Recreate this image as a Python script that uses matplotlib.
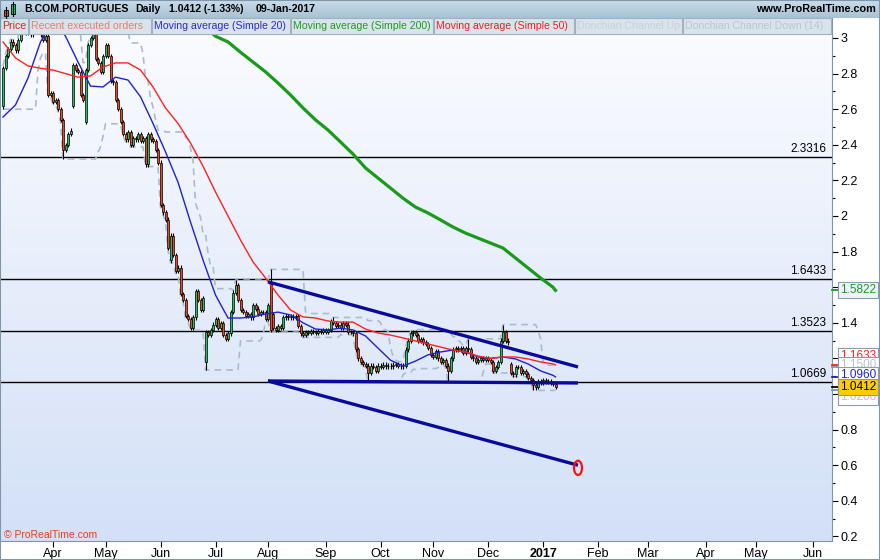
import numpy as np
import pandas as pd
import matplotlib
matplotlib.use('Agg')
import matplotlib.pyplot as plt
from matplotlib.patches import Rectangle, Ellipse
from matplotlib.colors import LinearSegmentedColormap

plt.rcParams['font.family'] = ['Liberation Sans', 'DejaVu Sans']

# --- data (daily closes from 2016-03-04 to 2017-01-09) ---
start_date = '2016-03-04'
closes = [
    2.83, 2.90, 2.94, 2.98, 2.96, 2.93, 2.99, 3.04, 3.06, 3.03,
    3.05, 3.02, 3.05, 3.08, 3.04, 3.02, 2.99, 3.01, 2.68, 2.69,
    2.64, 2.65, 2.60, 2.54, 2.37, 2.40, 2.46, 2.48, 2.85, 2.82,
    2.81, 2.68, 2.65, 2.82, 2.96, 3.00, 3.02, 2.88, 2.86, 2.81,
    2.90, 2.96, 2.90, 2.76, 2.75, 2.65, 2.60, 2.53, 2.46, 2.43,
    2.47, 2.40, 2.44, 2.43, 2.46, 2.42, 2.44, 2.29, 2.46, 2.43,
    2.42, 2.37, 2.30, 2.06, 2.02, 1.98, 1.82, 1.89, 1.78, 1.69,
    1.71, 1.56, 1.53, 1.44, 1.42, 1.37, 1.43, 1.58, 1.53, 1.47,
    1.54, 1.35, 1.33, 1.36, 1.39, 1.42, 1.37, 1.40, 1.33, 1.31,
    1.34, 1.46, 1.57, 1.61, 1.53, 1.47, 1.46, 1.44, 1.45, 1.43,
    1.50, 1.48, 1.45, 1.46, 1.46, 1.42, 1.50, 1.36, 1.37, 1.36,
    1.38, 1.37, 1.43, 1.44, 1.43, 1.44, 1.43, 1.44, 1.38, 1.34,
    1.33, 1.35, 1.345, 1.355, 1.35, 1.345, 1.355, 1.35, 1.36, 1.35,
    1.36, 1.41, 1.40, 1.38, 1.39, 1.37, 1.40, 1.39, 1.35, 1.35,
    1.34, 1.25, 1.20, 1.18, 1.17, 1.16, 1.12, 1.16, 1.15, 1.13,
    1.16, 1.15, 1.165, 1.155, 1.16, 1.155, 1.165, 1.17, 1.16, 1.155,
    1.16, 1.25, 1.30, 1.34, 1.35, 1.33, 1.30, 1.31, 1.29, 1.28,
    1.26, 1.22, 1.21, 1.24, 1.20, 1.18, 1.19, 1.16, 1.13, 1.20,
    1.25, 1.26, 1.25, 1.26, 1.23, 1.26, 1.25, 1.21, 1.20, 1.18,
    1.19, 1.20, 1.19, 1.20, 1.19, 1.18, 1.13, 1.15, 1.18, 1.30,
    1.35, 1.30, 1.29, 1.12, 1.11, 1.15, 1.15, 1.12, 1.13, 1.11,
    1.09, 1.08, 1.05, 1.04, 1.07, 1.06, 1.08, 1.07, 1.07, 1.06,
    1.055, 1.0412,
]
# opens that gap away from the previous close
gap_opens = {0: 2.62, 28: 2.62, 33: 2.53, 67: 1.75, 81: 1.18, 107: 1.62,
             108: 1.45, 203: 1.17}
# visible long wicks
high_ext = {7: 3.12, 36: 3.06, 93: 1.64, 107: 1.70, 132: 1.43, 186: 1.31, 200: 1.39}
low_ext = {0: 2.60, 24: 2.32, 81: 1.135, 90: 1.30, 146: 1.067, 178: 1.067,
           212: 1.025, 213: 1.02}

# moving averages read every 5 sessions (last point = last session)
ma20 = [2.556, 2.624, 2.775, 2.978, 3.10, 3.01, 2.865, 2.73, 2.725, 2.78,
        2.764, 2.67, 2.52, 2.36, 2.19, 1.966, 1.753, 1.556, 1.427, 1.427,
        1.433, 1.45, 1.46, 1.444, 1.40, 1.365, 1.36, 1.37, 1.36, 1.326,
        1.258, 1.19, 1.157, 1.185, 1.22, 1.236, 1.247, 1.236, 1.208, 1.20,
        1.208, 1.197, 1.169, 1.13, 1.105, 1.096]
ma50 = [2.978, 2.888, 2.843, 2.83, 2.82, 2.80, 2.78, 2.787, 2.837, 2.86,
        2.86, 2.82, 2.725, 2.607, 2.52, 2.41, 2.28, 2.135, 2.0, 1.865,
        1.742, 1.652, 1.556, 1.472, 1.433, 1.427, 1.41, 1.404, 1.404, 1.365,
        1.343, 1.331, 1.315, 1.298, 1.281, 1.264, 1.247, 1.236, 1.213, 1.20,
        1.208, 1.208, 1.197, 1.18, 1.169, 1.1633]
ma200 = [None] * 16 + [
        3.07, 3.01, 2.978, 2.92, 2.865, 2.81, 2.747, 2.68, 2.607, 2.54,
        2.483, 2.416, 2.348, 2.27, 2.213, 2.157, 2.10, 2.05, 2.017, 1.978,
        1.938, 1.904, 1.876, 1.848, 1.82, 1.764, 1.708, 1.652, 1.60, 1.5822]

levels = [2.3316, 1.6433, 1.3523, 1.0669]
trend_dates = ['2016-08-01', '2017-01-20']
trend_upper = [1.63, 1.152]
trend_base = [1.073, 1.062]
trend_lower = [1.073, 0.60]
target_date = '2017-01-20'
target_price = 0.585

legend_items = ['Price', 'Recent executed orders', 'Moving average (Simple 20)',
                'Moving average (Simple 200)', 'Moving average (Simple 50)',
                'Donchian Channel Up', 'Donchian Channel Down (14)']
value_labels = ['1.5822', '1.1633', '1.1500', '1.0960', '1.0200', '1.0412']
value_prices = [1.5822, 1.1633, 1.1500, 1.0960, 1.0200, 1.0412]

# --- prepare ---
W, H = 880, 560
WICK = 0.012
n = len(closes)
all_days = pd.bdate_range(start_date, '2017-06-30')
opens = [closes[0]] + closes[:-1]
for k, v in gap_opens.items():
    opens[k] = v
highs = [high_ext.get(i, max(o, c) + WICK) for i, (o, c) in enumerate(zip(opens, closes))]
lows = [low_ext.get(i, min(o, c) - WICK) for i, (o, c) in enumerate(zip(opens, closes))]
don_up = pd.Series(highs).rolling(14, min_periods=1).max()
don_dn = pd.Series(lows).rolling(14, min_periods=1).min()
ma_x = list(range(0, n - 1, 5)) + [n - 1]


def day_idx(d):
    return all_days.get_loc(pd.Timestamp(d))


def fx(x):
    return x / W


def fy(y):
    return 1 - y / H


fig = plt.figure(figsize=(W / 100, H / 100), dpi=100)
fig.patch.set_facecolor('white')

PL, PR, PT, PB = 1, 832, 18, 541
ax = fig.add_axes([fx(PL), fy(PB), (PR - PL) / W, (PB - PT) / H])
x0, x1 = (PL - 3) / 2.5, (PR - 3) / 2.5
y0, y1 = 3 - (PB - 38) / 178, 3 - (PT - 38) / 178

bg = LinearSegmentedColormap.from_list('bg', ['#d3e0f7', '#fbfcff'])
ax.imshow(np.linspace(0, 1, 256).reshape(-1, 1), origin='lower', cmap=bg,
          extent=[x0, x1, y0, y1], aspect='auto', zorder=0)

for lv in levels:
    ax.axhline(lv, color='black', lw=1, zorder=1)
    ax.text(0.993, lv + 0.012, f'{lv:.4f}', transform=ax.get_yaxis_transform(),
            ha='right', va='bottom', fontsize=8.5, zorder=6)

xs = np.arange(n)
ax.plot(xs, don_up, color='#a9bccb', lw=1.2, ls=(0, (4, 3)), zorder=2)
ax.plot(xs, don_dn, color='#a9bccb', lw=1.2, ls=(0, (4, 3)), zorder=2)

# candles
ax.vlines(xs, lows, highs, color='black', lw=0.8, zorder=3)
body_col = ['#22c060' if c >= o else '#f2461e' for o, c in zip(opens, closes)]
ax.bar(xs, np.array(closes) - np.array(opens), bottom=opens, width=0.8,
       color=body_col, edgecolor='black', linewidth=0.5, zorder=3)

ax.plot(ma_x, ma20, color='#2020d0', lw=1, zorder=4)
ax.plot(ma_x, ma50, color='#ff2020', lw=1, zorder=4)
ma200_arr = np.array([np.nan if v is None else v for v in ma200])
ax.plot(ma_x, ma200_arr, color='#1a9a1a', lw=2.3, zorder=4)

tx = [day_idx(d) for d in trend_dates]
for vals in (trend_upper, trend_base, trend_lower):
    ax.plot(tx, vals, color='#0a0a9a', lw=2.4, solid_capstyle='butt', zorder=5)
ax.add_patch(Ellipse((day_idx(target_date), target_price), 3.2, 0.08,
                     fill=False, edgecolor='#ff1010', lw=1.6, zorder=6))

ax.set_xlim(x0, x1)
ax.set_ylim(y0, y1)

# axes styling
for s in ('left', 'top'):
    ax.spines[s].set_visible(False)
for s in ('right', 'bottom'):
    ax.spines[s].set_color('#8295a8')
ax.yaxis.tick_right()
yt = np.round(np.arange(0.2, 3.01, 0.2), 1)
ax.set_yticks(yt)
ax.set_yticklabels([f'{v:g}' for v in yt])
ax.set_yticks(np.round(np.arange(0.3, 3.1, 0.2), 1), minor=True)
ax.tick_params(axis='y', which='major', length=4, width=0.8, labelsize=9, pad=2)
ax.tick_params(axis='y', which='minor', length=2, width=0.8)

mt, ml = [], []
for i in range(1, len(all_days)):
    if all_days[i].month != all_days[i - 1].month and x0 < i < x1:
        mt.append(i)
        ml.append('2017' if all_days[i].month == 1 else all_days[i].strftime('%b'))
ax.set_xticks(mt)
ax.set_xticklabels(ml)
ax.tick_params(axis='x', length=4, width=0.8, labelsize=9, pad=1)
for lab in ax.get_xticklabels():
    if lab.get_text() == '2017':
        lab.set_fontweight('bold')

# last-value boxes on the price scale
box_style = {
    '1.5822': ('#1a9a1a', '#eef3f8', 0),
    '1.1633': ('#ff2020', 'white', 9),
    '1.1500': ('#b5c3cf', 'white', 2),
    '1.0960': ('#2020d0', 'white', 1.5),
    '1.0200': ('#b5c3cf', 'white', -6.5),
    '1.0412': ('black', '#ffcc00', 0),
}
for z, (lab, val) in enumerate(zip(value_labels, value_prices)):
    tc, fc, dy = box_style[lab]
    ax.plot([1.0, 1.008], [val, val], transform=ax.get_yaxis_transform(),
            color=tc if tc != '#b5c3cf' else '#8295a8', lw=1.3, clip_on=False, zorder=10)
    ax.annotate(lab, xy=(1.0, val), xycoords=ax.get_yaxis_transform(),
                xytext=(8, dy), textcoords='offset pixels', ha='left', va='center',
                fontsize=8.5, color=tc, annotation_clip=False, zorder=11 + z,
                bbox=dict(boxstyle='square,pad=0.18', fc=fc, ec='#8a9bab', lw=0.8))

# header band
hax = fig.add_axes([0, fy(18), 1, 18 / H])
hcm = LinearSegmentedColormap.from_list('hd', ['#a7c1d4', '#cadcea'])
hax.imshow(np.linspace(0, 1, 64).reshape(-1, 1), origin='lower', cmap=hcm,
           extent=[0, 1, 0, 1], aspect='auto')
hax.axis('off')

# icon
fig.add_artist(plt.Line2D([fx(6), fx(6)], [fy(18), fy(7)], color='black', lw=0.8))
fig.add_artist(Rectangle((fx(4), fy(16)), 4 / W, 6 / H, fc='#f04a2a', ec='black', lw=0.6))
fig.add_artist(plt.Line2D([fx(13), fx(13)], [fy(16), fy(2)], color='black', lw=0.8))
fig.add_artist(Rectangle((fx(11), fy(14)), 4 / W, 10 / H, fc='#22c060', ec='black', lw=0.6))

for x, t in zip([24, 135, 169, 256],
                ['B.COM.PORTUGUES', 'Daily', '1.0412 (-1.33%)', '09-Jan-2017']):
    fig.text(fx(x), fy(9.5), t, fontsize=7.6, weight='bold', va='center')
fig.text(fx(876), fy(9.5), 'www.ProRealTime.com', fontsize=7.8, weight='bold',
         va='center', ha='right')

# indicator legend row
leg_x = [0, 29, 152, 291, 434, 575, 683, 832]
leg_col = ['#e8221c', '#f07a70', '#2a2ad0', '#1e9e1e', '#f01e1e', '#c6d2dc', '#b9c7d3']
for i, t in enumerate(legend_items):
    fig.add_artist(Rectangle((fx(leg_x[i]), fy(34)), (leg_x[i + 1] - leg_x[i] - 1) / W,
                             16 / H, fc='#d9e3eb', ec='#9fb2c2', lw=0.8))
    fig.text(fx(leg_x[i] + 2), fy(26), t, fontsize=7.6, color=leg_col[i], va='center')

fig.text(fx(4), fy(535), '\u00a9 ProRealTime.com', fontsize=7.5, color='#e8401c',
         va='center')

fig.add_artist(Rectangle((0, 0), 1, 1, fill=False, ec='#7f96aa', lw=1.5,
                         transform=fig.transFigure))

fig.savefig('out.png', dpi=100)
